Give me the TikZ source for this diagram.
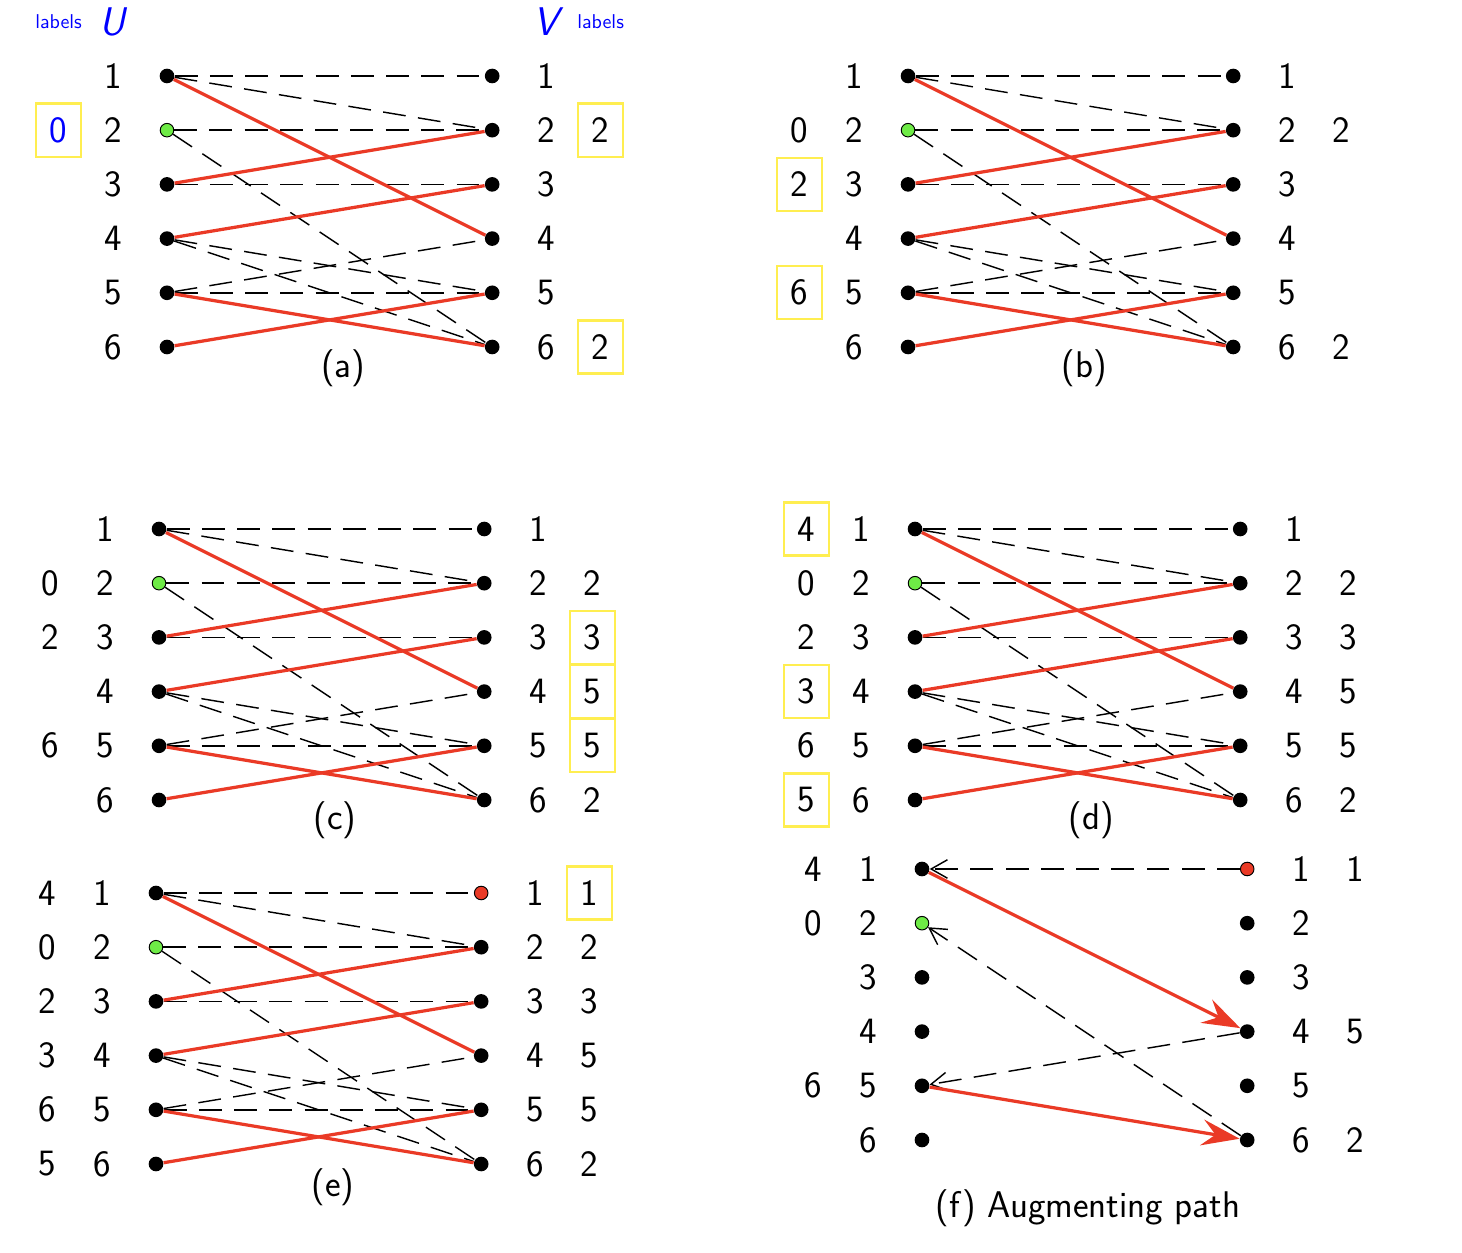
\documentclass[tikz,border=0pt]{standalone}
\usepackage{tikz}
\usetikzlibrary{arrows.meta,calc}

\definecolor{matchred}{RGB}{234,58,38}
\definecolor{boxyellow}{RGB}{255,238,80}
\definecolor{freegreen}{RGB}{110,235,70}

\tikzset{
  vtx/.style={circle,fill=black,inner sep=0pt,minimum size=2.7mm},
  freevtx/.style={circle,draw=black,fill=freegreen,inner sep=0pt,minimum size=2.5mm,line width=0.5pt},
  endvtx/.style={circle,draw=black,fill=matchred,inner sep=0pt,minimum size=2.5mm,line width=0.5pt},
  matched/.style={matchred,line width=1.7pt},
  unmatched/.style={black,line width=0.75pt,dash pattern=on 12pt off 6.5pt},
  num/.style={font=\fontsize{19.5}{23}\selectfont\sffamily,inner sep=0pt},
  side/.style={num,text=blue,font=\fontsize{21}{25}\selectfont\sffamily\itshape},
  hl/.style={num,draw=boxyellow,line width=1.2pt,minimum width=8.3mm,minimum height=9.8mm},
  head/.style={font=\fontsize{10.5}{12}\selectfont\sffamily,text=blue,inner sep=0pt},
}

% bipartite graph of one step: #1 = prefix, #2 = style of V1
\newcommand{\bipgraph}[2]{%
  \foreach \i in {1,...,6}{
    \node[num] (#1a\i) at (-1,{1-\i}) {\i};
    \node[num] (#1b\i) at (7,{1-\i}) {\i};
  }
  \node[vtx] (#1u1) at (0,0) {};
  \node[freevtx] (#1u2) at (0,-1) {};
  \foreach \i in {3,...,6} \node[vtx] (#1u\i) at (0,{1-\i}) {};
  \node[#2] (#1v1) at (6,0) {};
  \foreach \i in {2,...,6} \node[vtx] (#1v\i) at (6,{1-\i}) {};
  \foreach \a/\b in {1/1,1/2,2/2,2/6,3/3,4/5,4/6,5/4,5/5}
    \draw[unmatched] (#1u\a) -- (#1v\b);
  \foreach \a/\b in {1/4,3/2,4/3,5/6,6/5}
    \draw[matched] (#1u\a) -- (#1v\b);
}

\begin{document}
\begin{tikzpicture}
\useasboundingbox (0,0) rectangle (26.974,-23.118);

% (a)
\begin{scope}[shift={(3.081,-1.402)}]
  \bipgraph{a}{vtx}
  \node[head] (alabU) at (-2,1) {labels};
  \node[side] (aU) at (-1,1) {U};
  \node[side] (aV) at (7,1) {V};
  \node[head] (alabV) at (8,1) {labels};
  \node[hl,text=blue] (al2) at (-2,-1) {0};
  \node[hl] (ar2) at (8,-1) {2};
  \node[hl] (ar6) at (8,-5) {2};
  \node[num] (acap) at (3.25,-5.4) {(a)};
\end{scope}

% (b)
\begin{scope}[shift={(16.753,-1.402)}]
  \bipgraph{b}{vtx}
  \node[num] (bl2) at (-2,-1) {0};
  \node[hl] (bl3) at (-2,-2) {2};
  \node[hl] (bl5) at (-2,-4) {6};
  \node[num] (br2) at (8,-1) {2};
  \node[num] (br6) at (8,-5) {2};
  \node[num] (bcap) at (3.25,-5.4) {(b)};
\end{scope}

% (c)
\begin{scope}[shift={(2.934,-9.760)}]
  \bipgraph{c}{vtx}
  \foreach \r/\t in {2/0,3/2,5/6} \node[num] (cl\r) at (-2,{1-\r}) {\t};
  \foreach \r/\t in {2/2,6/2} \node[num] (cr\r) at (8,{1-\r}) {\t};
  \foreach \r/\t in {3/3,4/5,5/5} \node[hl] (cr\r) at (8,{1-\r}) {\t};
  \node[num] (ccap) at (3.25,-5.37) {(c)};
\end{scope}

% (d)
\begin{scope}[shift={(16.882,-9.760)}]
  \bipgraph{d}{vtx}
  \foreach \r/\t in {2/0,3/2,5/6} \node[num] (dl\r) at (-2,{1-\r}) {\t};
  \foreach \r/\t in {1/4,4/3,6/5} \node[hl] (dl\r) at (-2,{1-\r}) {\t};
  \foreach \r/\t in {2/2,3/3,4/5,5/5,6/2} \node[num] (dr\r) at (8,{1-\r}) {\t};
  \node[num] (dcap) at (3.25,-5.37) {(d)};
\end{scope}

% (e)
\begin{scope}[shift={(2.878,-16.476)}]
  \bipgraph{e}{endvtx}
  \foreach \r/\t in {1/4,2/0,3/2,4/3,5/6,6/5} \node[num] (el\r) at (-2,{1-\r}) {\t};
  \node[hl] (er1) at (8,0) {1};
  \foreach \r/\t in {2/2,3/3,4/5,5/5,6/2} \node[num] (er\r) at (8,{1-\r}) {\t};
  \node[num] (ecap) at (3.27,-5.42) {(e)};
\end{scope}

% (f) augmenting path
\begin{scope}[shift={(17.011,-16.033)}]
  \foreach \i in {1,...,6}{
    \node[num] (fa\i) at (-1,{1-\i}) {\i};
    \node[num] (fb\i) at (7,{1-\i}) {\i};
  }
  \node[vtx] (fu1) at (0,0) {};
  \node[freevtx] (fu2) at (0,-1) {};
  \foreach \i in {3,...,6} \node[vtx] (fu\i) at (0,{1-\i}) {};
  \node[endvtx] (fv1) at (6,0) {};
  \foreach \i in {2,...,6} \node[vtx] (fv\i) at (6,{1-\i}) {};
  \foreach \r/\t in {1/4,2/0,5/6} \node[num] (fl\r) at (-2,{1-\r}) {\t};
  \foreach \r/\t in {1/1,4/5,6/2} \node[num] (fr\r) at (8,{1-\r}) {\t};
  \draw[unmatched,-{Straight Barb[length=3mm,width=3.4mm]}] (fv1) -- (fu1);
  \draw[matched,-{Stealth[length=7mm,width=4.8mm,inset=2.5mm]}] (fu1) -- (fv4);
  \draw[unmatched,-{Straight Barb[length=3mm,width=3.4mm]}] (fv4) -- (fu5);
  \draw[matched,-{Stealth[length=7mm,width=4.8mm,inset=2.5mm]}] (fu5) -- (fv6);
  \draw[unmatched,-{Straight Barb[length=3mm,width=3.4mm]}] (fv6) -- (fu2);
  \node[num] (fcap) at (3.06,-6.25) {(f) Augmenting path};
\end{scope}
\end{tikzpicture}
\end{document}
